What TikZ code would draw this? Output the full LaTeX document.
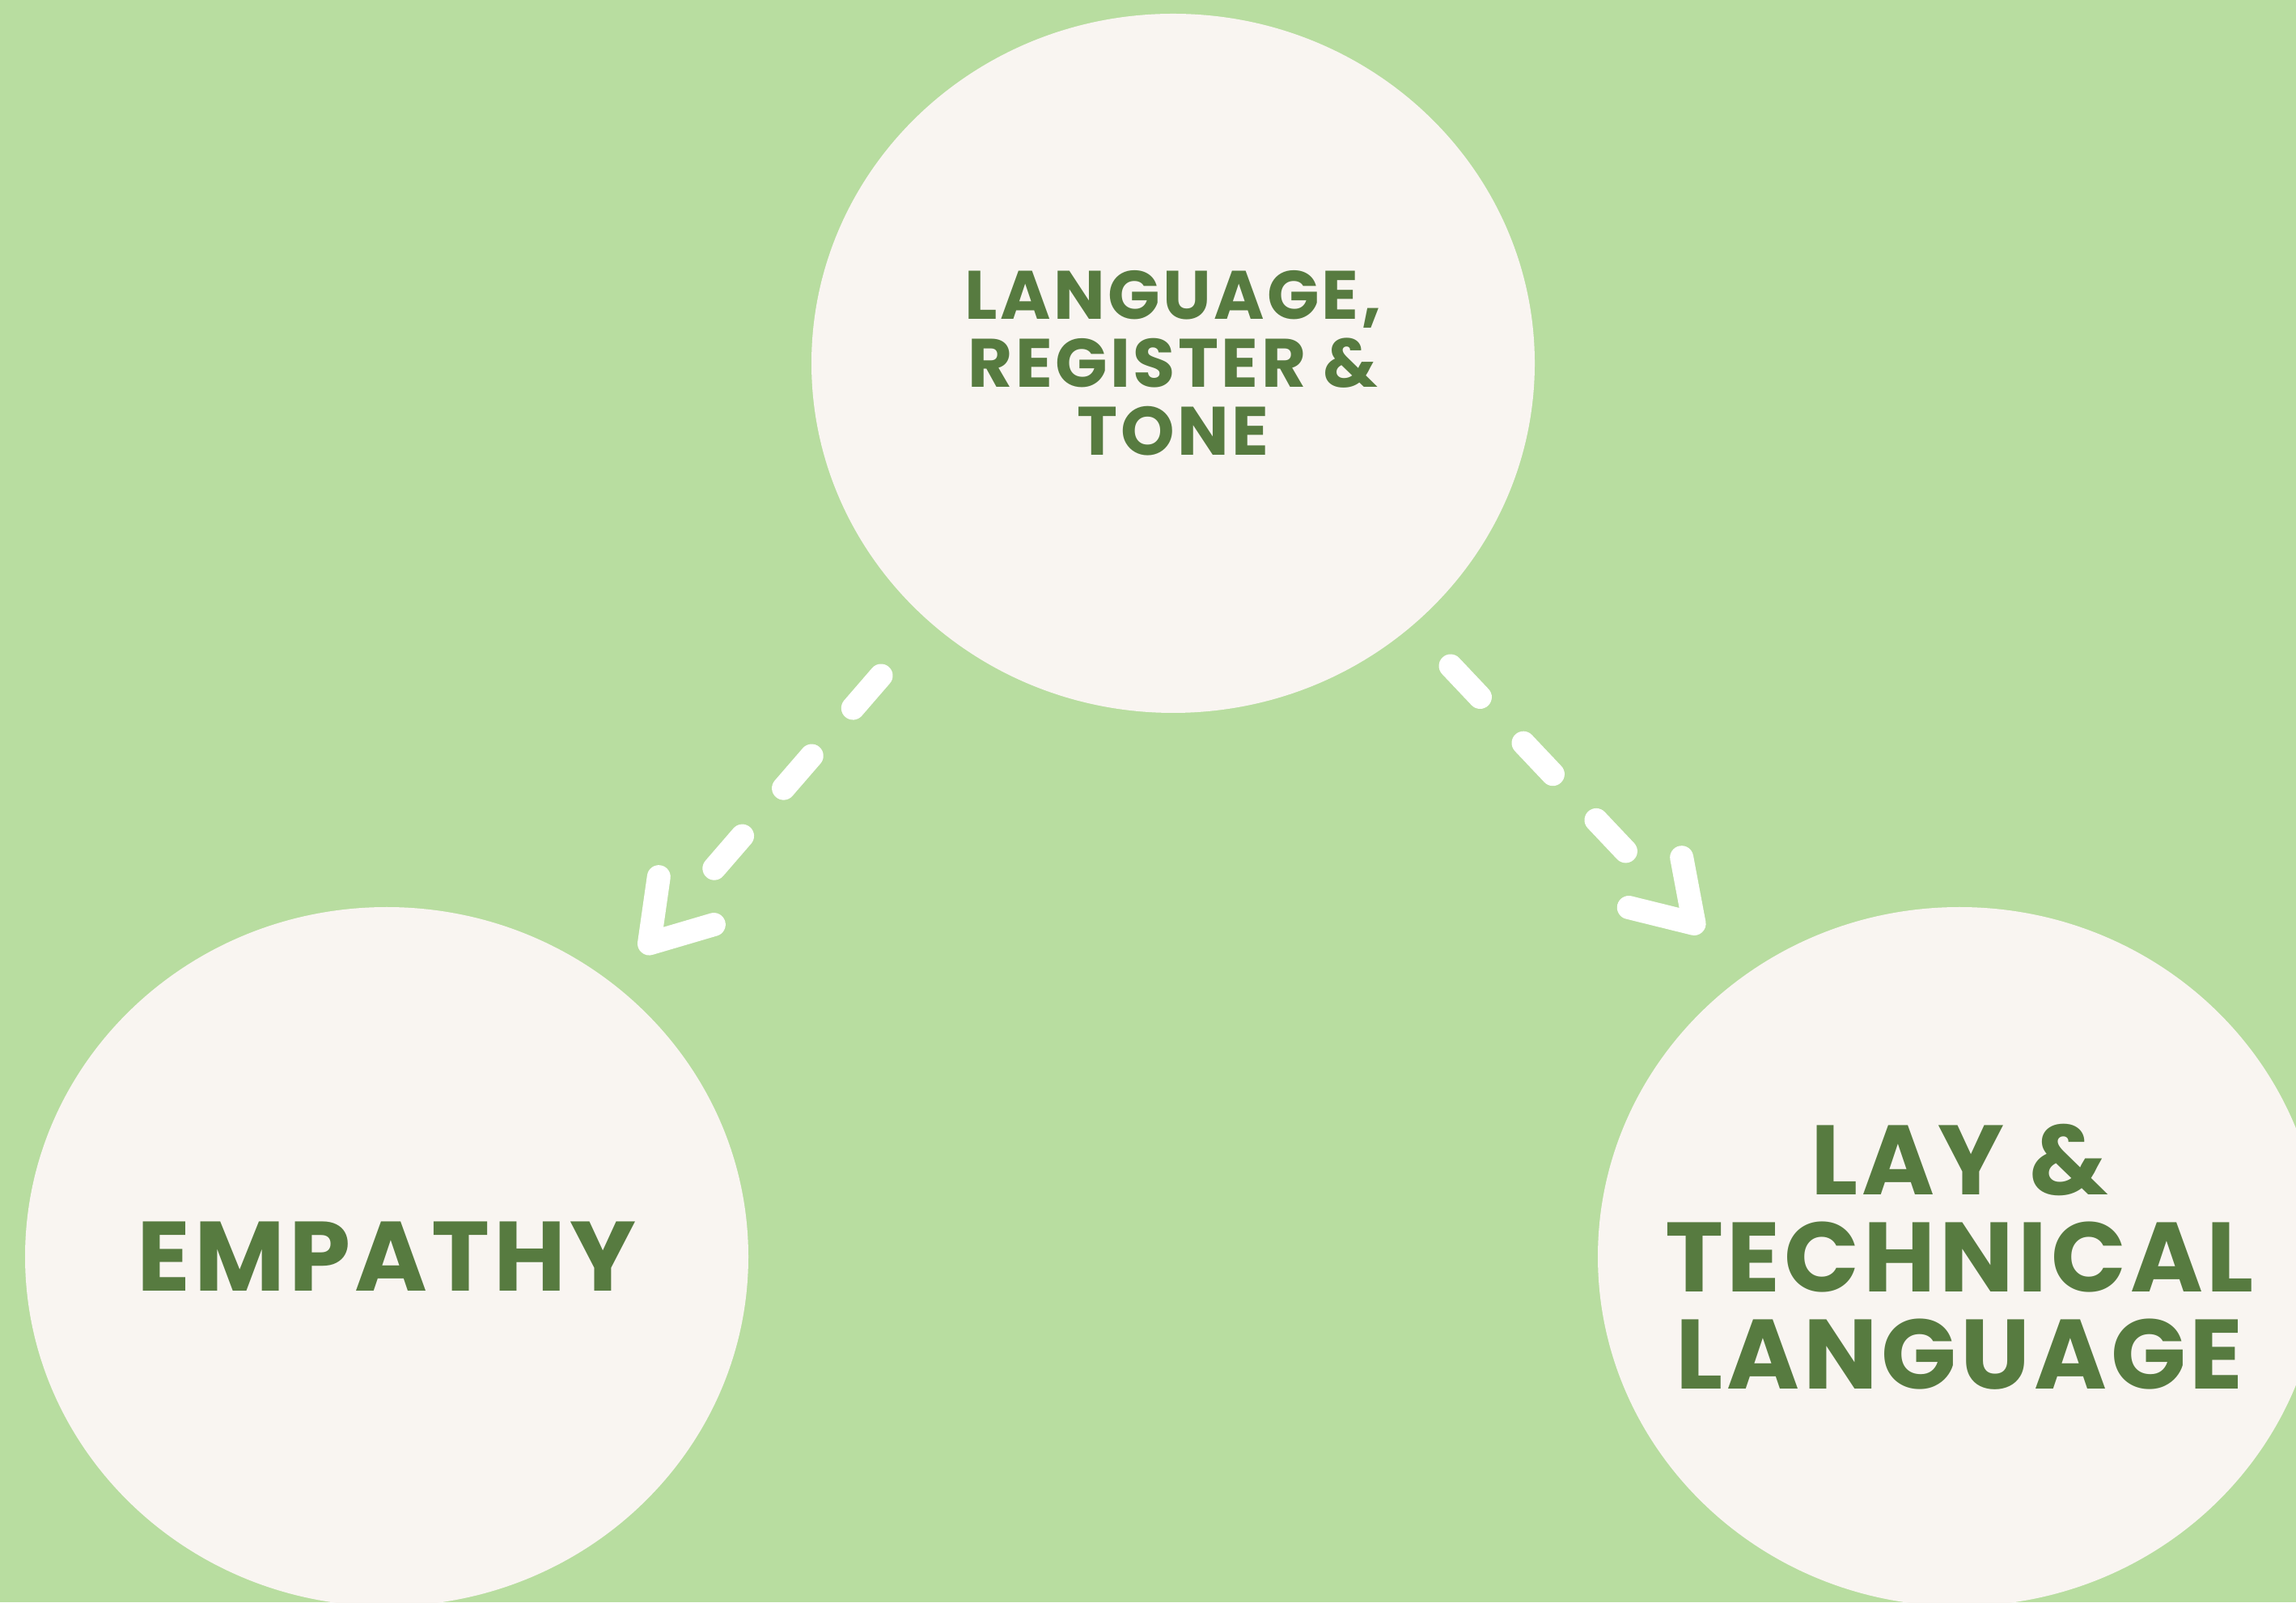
\documentclass[tikz,border=0pt]{standalone}
\usepackage{fontspec}
\usetikzlibrary{arrows.meta,calc,shapes.geometric}
\newfontfamily\bubblefont{Poppins}[LetterSpace=4]
\definecolor{bggreen}{HTML}{B8DDA0}
\definecolor{bubblefill}{HTML}{F9F5F1}
\definecolor{inkgreen}{HTML}{577B40}

\begin{document}
\begin{tikzpicture}
		\tikzset{
			my bubble/.style={
					ellipse,
					fill=bubblefill,
					minimum width=8.94cm,
					minimum height=8.64cm,
					inner sep=-1.5cm,
					align=center,
					text=inkgreen,
				},
			big text/.style={font=\bubblefont\bfseries\fontsize{34.7pt}{34.1pt}\selectfont},
			small text/.style={font=\bubblefont\bfseries\fontsize{24.1pt}{23.9pt}\selectfont},
			my link/.style={
					white,
					line width=2.9mm,
					line cap=round,
					dash pattern=on 5.3mm off 7.8mm on 5.3mm off 7.8mm on 5.3mm off 10cm,
					-{Straight Barb[round, length=7mm, width=9mm]},
				},
		}
		\fill[bggreen] (0,0) rectangle (28.38,19.80);
		\useasboundingbox (0,0) rectangle (28.38,19.80);
		%
		\node[my bubble, small text] at (14.50,15.31) (lrt) {LANGUAGE,\\REGISTER \&\\TONE};
		\node[my bubble, big text] at ($(lrt)+(-9.72,-11.04)$) (emp) {EMPATHY};
		\node[my bubble, big text] at ($(lrt)+(9.72,-11.04)$) (lay) {LAY \&\\TECHNICAL\\LANGUAGE};
		%
		\coordinate (l1) at ($(lrt)+(-3.61,-3.86)$);
		\coordinate (l2) at ($(emp)+(3.15,3.76)$);
		\coordinate (r1) at ($(lrt)+(3.43,-3.74)$);
		\coordinate (r2) at ($(lay)+(-3.18,4.01)$);
		\draw[my link] (l1) -- (l2);
		\draw[my link] (r1) -- (r2);
	\end{tikzpicture}
\end{document}
